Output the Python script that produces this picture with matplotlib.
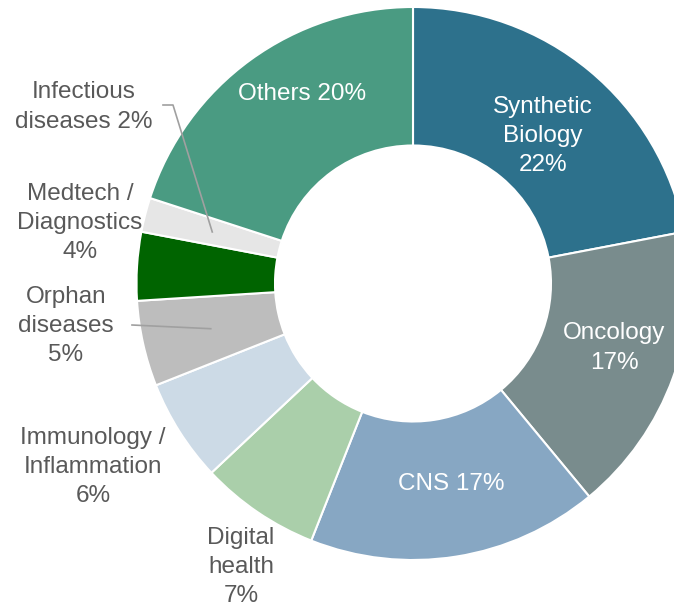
import matplotlib.pyplot as plt
import numpy as np

labels = ['Synthetic Biology', 'Oncology', 'CNS', 'Digital health',
          'Immunology / Inflammation', 'Orphan diseases', 'Medtech / Diagnostics',
          'Infectious diseases', 'Others']
values = [22, 17, 17, 7, 6, 5, 4, 2, 20]
colors = ['#2D718C', '#798C8D', '#87A7C3', '#AACFAA', '#CCDAE6',
          '#BDBDBD', '#006400', '#E6E6E6', '#4A9B82']

W, H = 674, 608
cx, cy = 413, H - 283.5
r_out, r_in = 276.5, 138

plt.rcParams['font.family'] = ['Liberation Sans', 'DejaVu Sans']

fig = plt.figure(figsize=(W / 100, H / 100), dpi=100)
ax = fig.add_axes([0, 0, 1, 1])
wedges, _ = ax.pie(values, colors=colors, startangle=90, counterclock=False,
                   radius=r_out, center=(cx, cy),
                   wedgeprops=dict(width=r_out - r_in, edgecolor='white', linewidth=1.5))
ax.set_xlim(0, W)
ax.set_ylim(0, H)
ax.axis('off')

fs = 17.5
ls = 1.42
grey = '#595959'


def py(y):
    return H - y


# labels inside the ring
inside = {
    'Synthetic Biology': ('Synthetic\nBiology\n22%', 543, 136),
    'Oncology': ('Oncology\n17%', 614, 348),
    'CNS': ('CNS 17%', 451, 484),
    'Others': ('Others 20%', 302, 94),
}
for key, (txt, x, y) in inside.items():
    ax.text(x, py(y), txt, color='white', fontsize=fs, ha='center', va='center',
            linespacing=ls)

# labels outside the ring
outside = {
    'Digital health': ('Digital\nhealth\n7%', 241, 567),
    'Immunology / Inflammation': ('Immunology /\nInflammation\n6%', 93, 467),
    'Orphan diseases': ('Orphan\ndiseases\n5%', 66, 326),
    'Medtech / Diagnostics': ('Medtech /\nDiagnostics\n4%', 80, 223),
    'Infectious diseases': ('Infectious\ndiseases 2%', 84, 107),
}
for key, (txt, x, y) in outside.items():
    ax.text(x, py(y), txt, color=grey, fontsize=fs, ha='center', va='center',
            linespacing=ls)


# leader lines to the middle of the small slices
def mid_point(name):
    w = wedges[labels.index(name)]
    a = np.deg2rad((w.theta1 + w.theta2) / 2)
    rm = (r_out + r_in) / 2
    return cx + rm * np.cos(a), cy + rm * np.sin(a)


x0, y0 = mid_point('Infectious diseases')
ax.plot([163, 173, x0], [py(105), py(105), y0], color='#A0A0A0', lw=1.2)
x1, y1 = mid_point('Orphan diseases')
ax.plot([132, x1], [py(325), y1], color='#A0A0A0', lw=1.2)

fig.savefig('out.png', dpi=100)
